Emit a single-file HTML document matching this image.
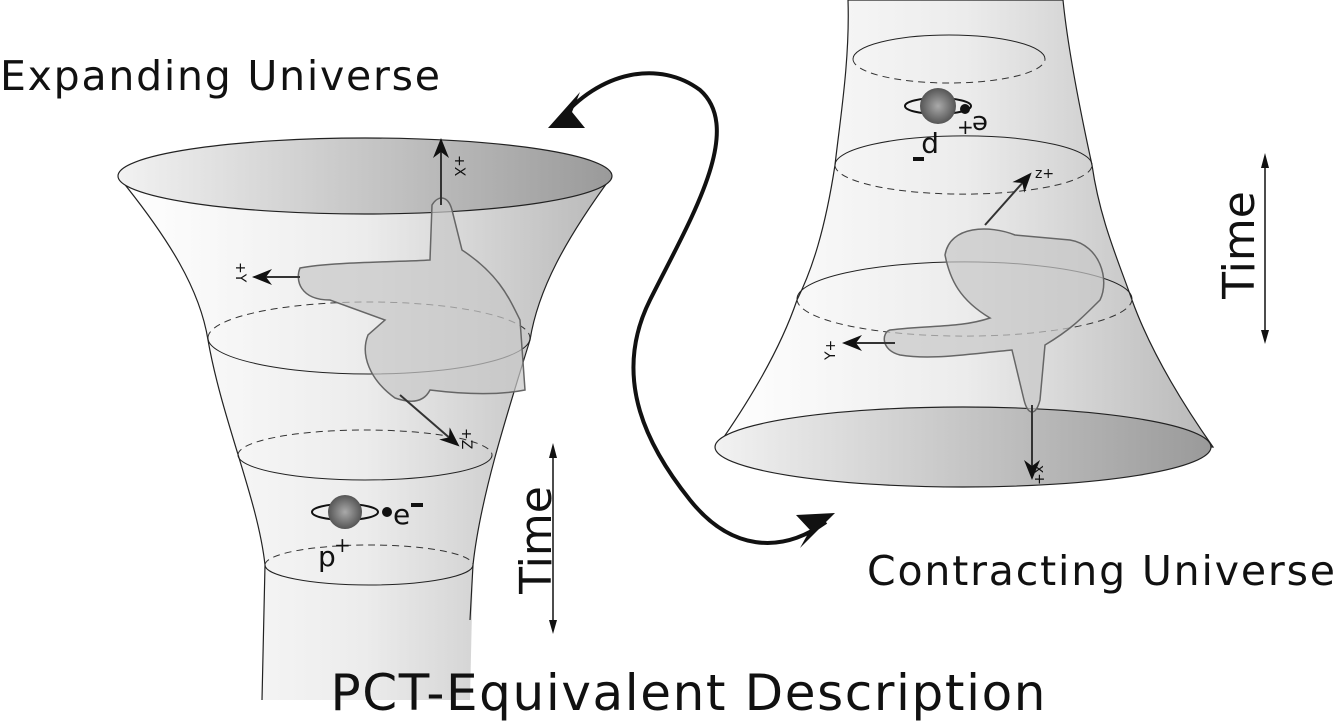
<!DOCTYPE html>
<html><head><meta charset="utf-8"><style>
html,body{margin:0;padding:0;background:#fff;width:1336px;height:722px;overflow:hidden}
svg{display:block}
text{font-family:"DejaVu Sans","Liberation Sans",sans-serif;fill:#111}
</style></head><body>
<svg width="1336" height="722" viewBox="0 0 1336 722">
<defs>
<linearGradient id="fg" x1="0" x2="1" y1="0" y2="0"><stop offset="0" stop-color="#ffffff"/><stop offset="0.5" stop-color="#ececec"/><stop offset="1" stop-color="#b8b8b8"/></linearGradient>
<linearGradient id="eg" x1="0" x2="1"><stop offset="0" stop-color="#f2f2f2"/><stop offset="1" stop-color="#9a9a9a"/></linearGradient>
<radialGradient id="ball"><stop offset="0" stop-color="#aaa"/><stop offset="1" stop-color="#555"/></radialGradient>
<marker id="ah" markerWidth="10" markerHeight="10" refX="5" refY="5" orient="auto"><path d="M0,1 L10,5 L0,9 L3,5Z" fill="#111"/></marker>
</defs>

<g>
<path d="M118,176 C170,240 200,290 208,340 C222,420 258,500 265,565 L262,700 L470,700 L473,565 C480,500 505,420 530,340 C538,290 565,240 612,176 Z" fill="url(#fg)" stroke="none"/>
<path d="M118,176 C170,240 200,290 208,340 C222,420 258,500 265,565 L262,700" fill="none" stroke="#222" stroke-width="1.2"/>
<path d="M612,176 C565,240 538,290 530,340 C505,420 480,500 473,565 L470,620" fill="none" stroke="#222" stroke-width="1.2"/>
<ellipse cx="365" cy="176" rx="247" ry="38" fill="url(#eg)" stroke="#222" stroke-width="1.2"/>
<path d="M208,338 A161,36 0 0 1 530,338" fill="none" stroke="#333" stroke-dasharray="7,5"/>
<path d="M208,338 A161,36 0 0 0 530,338" fill="none" stroke="#222"/>
<path d="M238,455 A127,25 0 0 1 492,455" fill="none" stroke="#333" stroke-dasharray="7,5"/>
<path d="M238,455 A127,25 0 0 0 492,455" fill="none" stroke="#222"/>
<path d="M265,565 A104,20 0 0 1 473,565" fill="none" stroke="#333" stroke-dasharray="7,5"/>
<path d="M265,565 A104,20 0 0 0 473,565" fill="none" stroke="#222"/>
<path d="M300,268 C330,262 400,262 430,260 L432,205 C438,195 448,195 452,210 L462,250 C500,275 510,300 520,320 L525,390 C500,395 470,395 430,390 C425,400 415,405 395,398 C370,380 360,355 368,335 L385,320 L330,300 C300,300 295,280 300,268 Z" fill="#c8c8c8" fill-opacity="0.7" stroke="#666" stroke-width="1.5"/>
<line x1="441" y1="205" x2="441" y2="148" stroke="#333" stroke-width="2" marker-end="url(#ah)"/>
<text x="455" y="155" font-size="14" transform="rotate(90 455 155)">+X</text>
<line x1="300" y1="277" x2="262" y2="277" stroke="#333" stroke-width="2" marker-end="url(#ah)"/>
<text x="236" y="262" font-size="14" transform="rotate(90 236 262)">+Y</text>
<line x1="400" y1="395" x2="452" y2="440" stroke="#333" stroke-width="2" marker-end="url(#ah)"/>
<text x="462" y="428" font-size="14" transform="rotate(90 462 428)">+Z</text>
<g>
<ellipse cx="345" cy="512" rx="33" ry="8" fill="none" stroke="#111" stroke-width="2"/>
<circle cx="345" cy="512" r="17" fill="url(#ball)"/>
<circle cx="387" cy="512" r="5" fill="#111"/>
<text x="393" y="524" font-size="28">e</text><rect x="411" y="503" width="12" height="4" fill="#111"/>
<text x="318" y="566" font-size="28">p</text><text x="334" y="552" font-size="20">+</text>
</g>
</g>

<g>
<path d="M848,0 C850,60 840,120 835,165 C825,230 812,270 797,300 C780,350 750,400 717,447 L1213,447 C1180,400 1150,350 1132,300 C1118,260 1100,220 1092,165 C1080,110 1068,50 1063,0 Z" fill="url(#fg)" stroke="#222" stroke-width="1.2"/>
<path d="M853,59 A96,24 0 0 1 1045,59" fill="none" stroke="#222"/>
<path d="M853,59 A96,24 0 0 0 1045,59" fill="none" stroke="#333" stroke-dasharray="7,5"/>
<path d="M835,165 A128,29 0 0 1 1092,165" fill="none" stroke="#222"/>
<path d="M835,165 A128,29 0 0 0 1092,165" fill="none" stroke="#333" stroke-dasharray="7,5"/>
<path d="M797,299 A167,37 0 0 1 1132,299" fill="none" stroke="#222"/>
<path d="M797,299 A167,37 0 0 0 1132,299" fill="none" stroke="#333" stroke-dasharray="7,5"/>
<ellipse cx="963" cy="447" rx="248" ry="40" fill="url(#eg)" stroke="#222" stroke-width="1.2"/>
<path d="M890,330 C930,325 960,328 990,318 C960,300 950,280 945,255 C950,225 990,225 1015,235 L1070,240 C1100,245 1110,280 1100,300 C1080,320 1070,330 1045,345 L1040,400 C1036,416 1028,416 1024,400 L1012,350 C960,355 930,360 900,355 C880,350 882,332 890,330 Z" fill="#c8c8c8" fill-opacity="0.7" stroke="#666" stroke-width="1.5"/>
<line x1="1032" y1="405" x2="1032" y2="470" stroke="#333" stroke-width="2" marker-end="url(#ah)"/>
<text x="1045" y="465" font-size="14" transform="rotate(-90 1045 465) rotate(180 1045 460)">x+</text>
<line x1="895" y1="343" x2="852" y2="343" stroke="#333" stroke-width="2" marker-end="url(#ah)"/>
<text x="835" y="360" font-size="14" transform="rotate(-90 835 360)">Y+</text>
<line x1="985" y1="225" x2="1025" y2="180" stroke="#333" stroke-width="2" marker-end="url(#ah)"/>
<text x="1035" y="178" font-size="14">z+</text>
<g>
<ellipse cx="938" cy="106" rx="33" ry="8" fill="none" stroke="#111" stroke-width="2"/>
<circle cx="938" cy="106" r="18" fill="url(#ball)"/>
<circle cx="965" cy="109" r="5" fill="#111"/>
<text x="970" y="100" font-size="26" transform="rotate(180 979 108)">e</text>
<text x="957" y="134" font-size="20">+</text>
<text x="925" y="152" font-size="28" transform="rotate(180 932 145)">p</text>
<rect x="913" y="157" width="11" height="4" fill="#111"/>
</g>
</g>

<path d="M558,122 C600,70 660,60 700,90 C745,130 690,220 650,300 C610,380 650,450 690,500 C730,550 780,555 826,522" fill="none" stroke="#111" stroke-width="4"/>
<path d="M548,128 L580,92 L572,112 L585,128 Z" fill="#111"/>
<path d="M835,513 L800,548 L810,530 L796,515 Z" fill="#111"/>

<g>
<line x1="553" y1="447" x2="553" y2="630" stroke="#111" stroke-width="1.5"/>
<path d="M553,443 L549,458 L557,458Z M553,634 L549,620 L557,620Z" fill="#111"/>
<text x="551" y="540" font-size="44" text-anchor="middle" transform="rotate(-90 551 540)">Time</text>
</g>
<g>
<line x1="1265" y1="157" x2="1265" y2="340" stroke="#111" stroke-width="1.5"/>
<path d="M1265,153 L1261,168 L1269,168Z M1265,344 L1261,330 L1269,330Z" fill="#111"/>
<text x="1254" y="245" font-size="44" text-anchor="middle" transform="rotate(-90 1254 245)">Time</text>
</g>

<text x="0" y="90" font-size="41" textLength="440">Expanding Universe</text>
<text x="867" y="585" font-size="41" textLength="468">Contracting Universe</text>
<text x="688" y="710" font-size="50" text-anchor="middle" textLength="715">PCT-Equivalent Description</text>
</svg>
</body></html>
